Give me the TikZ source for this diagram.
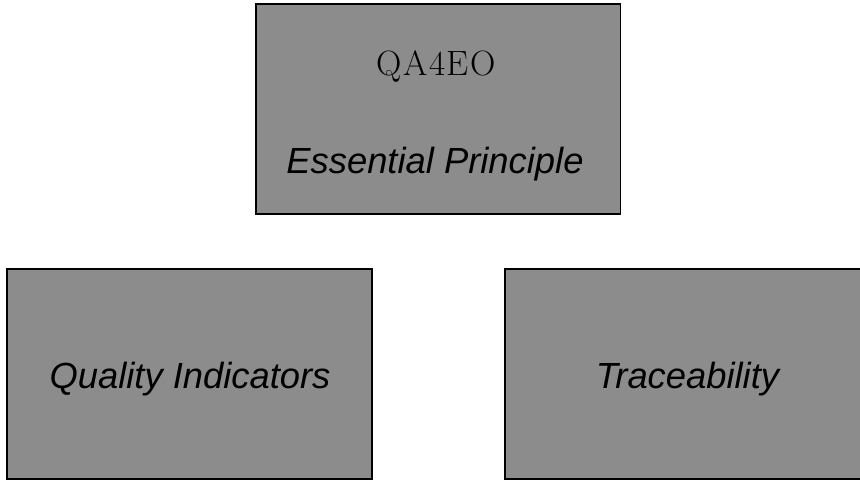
\documentclass[tikz,border=0pt]{standalone}
\usepackage{fontspec}
\usepackage{tikz}
\usetikzlibrary{positioning}
\newfontfamily\arialfont{Liberation Sans}
\newfontfamily\qafont[LetterSpace=4]{Latin Modern Roman}
\definecolor{boxgray}{RGB}{140,140,140}

\begin{document}
\begin{tikzpicture}[x=0.02cm,y=-0.02cm]
  \tikzstyle{block}=[rectangle,draw=black,fill=boxgray,line width=1.1pt,minimum width=7.3cm,minimum height=4.21cm,inner sep=0pt]
  \tikzstyle{caption}=[anchor=base,inner sep=0pt,font=\arialfont\itshape\fontsize{20.7}{24}\selectfont]
  \useasboundingbox (0,0) rectangle (860,481);

  \node[block] 		(principle) at (438,109)   {};
  \node[block] 		(quality)   at (189.5,374) {};
  \node[block] 		(trace)     at (687.5,374) {};

  \node[anchor=base,inner sep=0pt,font=\qafont\fontsize{20}{24}\selectfont] (qa) at (436,75) {QA4EO};
  \node[caption] 	(essential) at (435,173)   {Essential Principle};
  \node[caption] 	(qualitytx) at (190,388)   {Quality Indicators};
  \node[caption] 	(tracetx)   at (687.5,388) {Traceability};
\end{tikzpicture}
\end{document}
